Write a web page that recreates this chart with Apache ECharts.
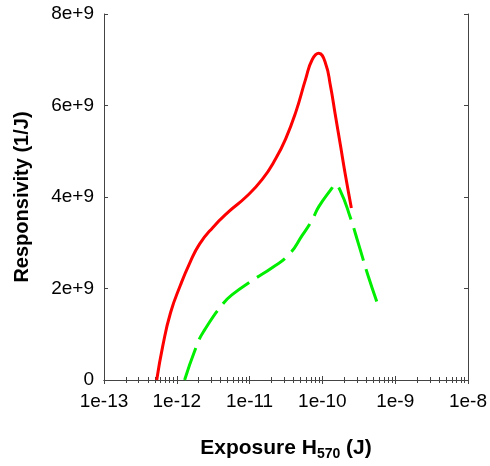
<!DOCTYPE html>
<html>
<head>
<meta charset="utf-8">
<script src="https://cdn.jsdelivr.net/npm/echarts@6/dist/echarts.min.js"></script>
<style>
  html, body { margin: 0; padding: 0; background: #fff; }
  #chart { width: 490px; height: 466px; }
</style>
</head>
<body>
<div id="chart"></div>
<script>
// 数据 (exposure in J, responsivity in 1/J)
const redX = [5.3e-13, 6.4e-13, 8.2e-13, 1.12e-12, 1.5e-12, 2.05e-12, 3.11e-12, 5.26e-12, 8.9e-12, 1.5e-11, 2.29e-11, 3.13e-11, 4.3e-11, 5.87e-11, 7.23e-11, 8.93e-11, 1.1e-10, 1.29e-10, 1.51e-10, 1.77e-10, 2.07e-10, 2.5e-10]
const redY = [0, 0.735e9, 1.47e9, 2.07e9, 2.55e9, 2.97e9, 3.33e9, 3.69e9, 4.0e9, 4.39e9, 4.84e9, 5.27e9, 5.85e9, 6.57e9, 7.0e9, 7.14e9, 6.93e9, 6.43e9, 5.78e9, 5.13e9, 4.48e9, 3.76e9]
const greenX = [1.28e-12, 1.94e-12, 2.4e-12, 4.27e-12, 5.83e-12, 1.1e-11, 2.06e-11, 3.47e-11, 5.28e-11, 7.23e-11, 8.93e-11, 1.36e-10, 1.47e-10, 1.77e-10, 2.42e-10, 3.14e-10, 4.3e-10, 5.89e-10]
const greenY = [0, 0.81e9, 1.09e9, 1.66e9, 1.87e9, 2.18e9, 2.46e9, 2.74e9, 3.16e9, 3.5e9, 3.79e9, 4.2e9, 4.27e9, 4.13e9, 3.55e9, 2.97e9, 2.25e9, 1.61e9]
const xTicks = ['1e-13', '1e-12', '1e-11', '1e-10', '1e-9', '1e-8']
const yTicks = ['0', '2e+9', '4e+9', '6e+9', '8e+9']

const zip = (xs, ys) => xs.map((x, i) => [x, ys[i]])

const axisColor = '#444'
const font = 'Liberation Sans, Arial, sans-serif'

const myChart = echarts.init(document.getElementById('chart'))

const logAxis = (pos, showLabel) => ({
  type: 'log',
  logBase: 10,
  min: 1e-13,
  max: 1e-8,
  position: pos,
  axisLine: { show: true, lineStyle: { color: axisColor, width: 1 } },
  axisTick: { show: true, inside: true, length: 4, lineStyle: { color: axisColor } },
  minorTick: { show: true, splitNumber: 9, length: 3, lineStyle: { color: axisColor } },
  splitLine: { show: false },
  minorSplitLine: { show: false },
  axisLabel: {
    show: showLabel,
    margin: 12,
    color: '#000',
    fontSize: 19,
    fontFamily: font,
    formatter: (v) => xTicks[Math.round(Math.log10(v)) + 13]
  }
})

const valAxis = (pos, showLabel) => ({
  type: 'value',
  min: 0,
  max: 8e9,
  interval: 2e9,
  position: pos,
  axisLine: { show: true, lineStyle: { color: axisColor, width: 1 } },
  axisTick: { show: true, inside: true, length: 4, lineStyle: { color: axisColor } },
  splitLine: { show: false },
  axisLabel: {
    show: showLabel,
    margin: 10,
    color: '#000',
    fontSize: 19,
    fontFamily: font,
    formatter: (v) => yTicks[Math.round(v / 2e9)]
  }
})

const options = {
  animation: false,
  backgroundColor: '#fff',
  grid: { left: 104, right: 20, top: 14, bottom: 82 },
  xAxis: [
    Object.assign(logAxis('bottom', true), {
      name: '{a|Exposure H}{s|570}{a| (J)}',
      nameLocation: 'middle',
      nameGap: 55,
      nameTextStyle: {
        rich: {
          a: { fontSize: 21, fontWeight: 'bold', fontFamily: font, color: '#000', lineHeight: 26 },
          s: { fontSize: 14, fontWeight: 'bold', fontFamily: font, color: '#000', lineHeight: 26, verticalAlign: 'bottom', padding: [12, 0, 0, 0] }
        }
      }
    }),
    logAxis('top', false)
  ],
  yAxis: [
    Object.assign(valAxis('left', true), {
      name: 'Responsivity (1/J)',
      nameLocation: 'middle',
      nameGap: 72,
      nameTextStyle: { fontSize: 20, fontWeight: 'bold', fontFamily: font, color: '#000' }
    }),
    valAxis('right', false)
  ],
  series: [
    {
      name: 'red',
      type: 'line',
      smooth: 0.5,
      showSymbol: false,
      data: zip(redX, redY),
      lineStyle: { color: '#ff0000', width: 3 }
    },
    {
      name: 'green',
      type: 'line',
      smooth: 0.5,
      showSymbol: false,
      data: zip(greenX, greenY),
      lineStyle: { color: '#00ee00', width: 3, type: [34, 9] }
    }
  ]
}
myChart.setOption(options)
</script>
</body>
</html>
